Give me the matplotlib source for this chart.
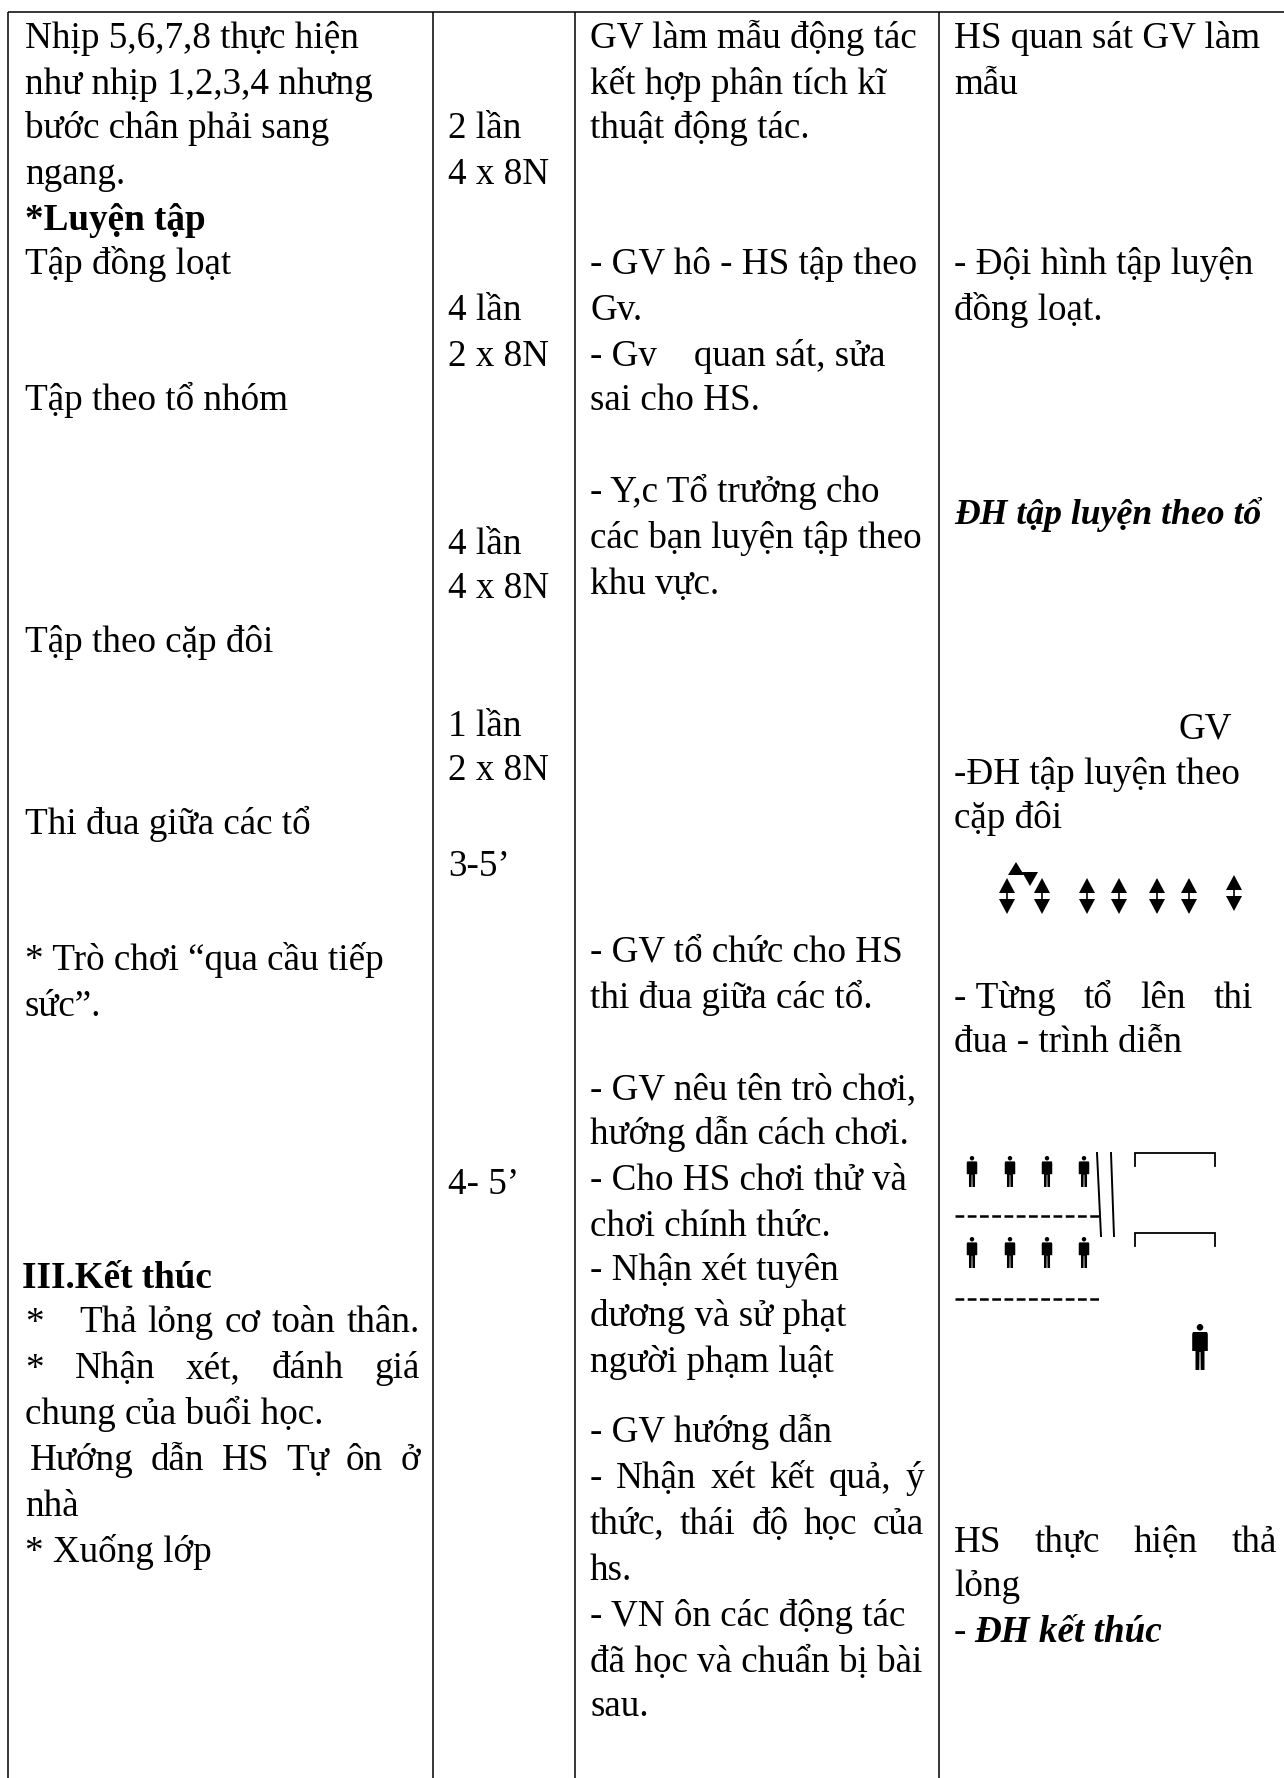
"""Scanned lesson-plan table page (Vietnamese), redrawn in pixel coordinates."""
import matplotlib
matplotlib.use('Agg')
import matplotlib.pyplot as plt
from matplotlib.patches import Circle, Polygon

W, H = 1284, 1778
FONT = 'Liberation Serif'
FS = 26.7
BASE_SHIFT = 1.5

# column 1
COL1_TEXT = ['Nhịp 5,6,7,8 thực hiện', 'như nhịp 1,2,3,4 nhưng', 'bước chân phải sang', 'ngang.',
             '*Luyện tập', 'Tập đồng loạt', 'Tập theo tổ nhóm', 'Tập theo cặp đôi',
             'Thi đua giữa các tổ', '* Trò chơi “qua cầu tiếp', 'sức”.', 'III.Kết thúc',
             '*', 'Thả lỏng cơ toàn thân.', '* Nhận xét, đánh giá', 'chung của buổi học.',
             'Hướng dẫn HS Tự ôn ở', 'nhà', '* Xuống lớp']
COL1_Y = [47, 92, 137, 182, 228, 273, 409, 650, 832, 968, 1014, 1286, 1331, 1331, 1377, 1423, 1468, 1514, 1560]
COL1_X = [25, 25, 25, 25, 25, 25, 25, 25, 25, 25, 25, 22, 25, 79, 25, 25, 30, 25, 25]

# column 2
COL2_TEXT = ['2 lần', '4 x 8N', '4 lần', '2 x 8N', '4 lần', '4 x 8N', '1 lần', '2 x 8N', '3-5’', '4- 5’']
COL2_Y = [137, 182, 319, 364, 552, 597, 734, 779, 874, 1193]

# column 3
COL3_TEXT = ['GV làm mẫu động tác', 'kết hợp phân tích kĩ', 'thuật động tác.',
             '- GV hô - HS tập theo', 'Gv.', '- Gv    quan sát, sửa', 'sai cho HS.',
             '- Y,c Tổ trưởng cho', 'các bạn luyện tập theo', 'khu vực.',
             '- GV tổ chức cho HS', 'thi đua giữa các tổ.',
             '- GV nêu tên trò chơi,', 'hướng dẫn cách chơi.', '- Cho HS chơi thử và',
             'chơi chính thức.', '- Nhận xét tuyên', 'dương và sử phạt', 'người phạm luật',
             '- GV hướng dẫn', '- Nhận xét kết quả, ý', 'thức, thái độ học của', 'hs.',
             '- VN ôn các động tác', 'đã học và chuẩn bị bài', 'sau.']
COL3_Y = [47, 92, 137, 273, 318, 364, 409, 501, 547, 592, 960, 1006, 1098, 1143, 1188, 1234,
          1279, 1325, 1371, 1441, 1487, 1532, 1579, 1625, 1670, 1715]

# column 4
COL4_TEXT = ['HS quan sát GV làm', 'mẫu', '- Đội hình tập luyện', 'đồng loạt.',
             'ĐH tập luyện theo tổ', '-ĐH tập luyện theo', 'cặp đôi', '-\u00a0Từng tổ lên thi',
             'đua - trình diễn', 'HS thực hiện thả', 'lỏng', '-', 'ĐH kết thúc']
COL4_Y = [47, 92, 273, 318, 522, 782, 827, 1006, 1051, 1550, 1595, 1640, 1640]
COL4_X = [954, 954, 954, 954, 954, 954, 954, 954, 954, 954, 954, 954, 974]
GV_LABEL = 'GV'

# lines stretched to the cell width: text -> right edge
JUSTIFIED = {'* Nhận xét, đánh giá': 420, 'Hướng dẫn HS Tự ôn ở': 420, 'Thả lỏng cơ toàn thân.': 420,
             '- Nhận xét kết quả, ý': 924, 'thức, thái độ học của': 924,
             '-\u00a0Từng tổ lên thi': 1253, 'HS thực hiện thả': 1277}
BOLD = ['*Luyện tập', 'III.Kết thúc']
BOLD_ITALIC = ['ĐH tập luyện theo tổ', 'ĐH kết thúc']

# grid
COL_LINES = [8, 433, 575, 939]
TOP = 12

# pair-formation arrows
ARROW_X = [1007, 1042, 1087, 1119, 1157, 1189, 1234]
ARROW_Y = [896, 896, 896, 896, 896, 896, 893]
# relay-game figures
SMALL_X = [972, 1010, 1047, 1084]
SMALL_Y = [1156, 1237]
DASH_Y = [1216, 1299]
BRACKET_Y = [1153, 1233]


fig = plt.figure(figsize=(W / 100, H / 100), dpi=100)
ax = fig.add_axes([0, 0, 1, 1])
ax.set_xlim(0, W)
ax.set_ylim(H, 0)
ax.axis('off')


def put(x, y, s):
    style = {'weight': 'normal', 'style': 'normal'}
    size = FS
    if s in BOLD:
        style['weight'] = 'bold'
    if s in BOLD_ITALIC:
        style.update(weight='bold', style='italic')
    if s == 'ĐH tập luyện theo tổ':
        size = 25.7  # this line is set tighter in the page
    return ax.text(x, y + BASE_SHIFT, s, family=FONT, fontsize=size, va='baseline', ha='left',
                   color='black', **style)


def line_of_text(x, y, s):
    if s not in JUSTIFIED:
        put(x, y, s)
        return
    # spread the words out to reach the right edge of the cell
    words = s.split(' ')
    r = fig.canvas.get_renderer()
    widths = []
    for w in words:
        t = put(0, 0, w)
        widths.append(t.get_window_extent(r).width)
        t.remove()
    gap = (JUSTIFIED[s] - x - sum(widths)) / (len(words) - 1)
    for w, wd in zip(words, widths):
        put(x, y, w)
        x += wd + gap


def person(cx, top, h):
    """Standing figure, h pixels tall."""
    u = h / 46.0
    ax.add_patch(Circle((cx, top + 3.3 * u), 3.3 * u, fc='black', ec='none'))
    body = [(-7, 8), (7, 8), (7.8, 10), (7.8, 27), (4.5, 27), (4.5, 46), (0.7, 46), (0.5, 28),
            (-0.5, 28), (-0.7, 46), (-4.5, 46), (-4.5, 27), (-7.8, 27), (-7.8, 10)]
    ax.add_patch(Polygon([(cx + a * u, top + b * u) for a, b in body], fc='black', ec='none'))


def double_arrow(cx, cy):
    ax.add_patch(Polygon([(cx - 8, cy - 3), (cx + 8, cy - 3), (cx, cy - 18)], fc='black', ec='none'))
    ax.add_patch(Polygon([(cx - 8, cy + 3), (cx + 8, cy + 3), (cx, cy + 18)], fc='black', ec='none'))
    ax.plot([cx, cx], [cy - 3, cy + 3], color='black', lw=1.2)


for x, y, s in zip(COL1_X, COL1_Y, COL1_TEXT):
    line_of_text(x, y, s)
for y, s in zip(COL2_Y, COL2_TEXT):
    line_of_text(448, y, s)
for y, s in zip(COL3_Y, COL3_TEXT):
    line_of_text(590, y, s)
for x, y, s in zip(COL4_X, COL4_Y, COL4_TEXT):
    line_of_text(x, y, s)
put(1178, 737, GV_LABEL)

# table rules run off the bottom and right of the page
ax.plot([COL_LINES[0], W], [TOP, TOP], color='black', lw=1.1, solid_capstyle='butt')
for x in COL_LINES:
    ax.plot([x, x], [TOP, H], color='black', lw=1.1, solid_capstyle='butt')

for x, y in zip(ARROW_X, ARROW_Y):
    double_arrow(x, y)
# little triangles over the first pair
ax.add_patch(Polygon([(1008, 875), (1024, 875), (1016, 862)], fc='black', ec='none'))
ax.add_patch(Polygon([(1022, 872), (1038, 872), (1030, 886)], fc='black', ec='none'))

for y in SMALL_Y:
    for x in SMALL_X:
        person(x, y, 31)
person(1200, 1324, 46)

for y in DASH_Y:
    ax.plot([955, 1102], [y, y], color='black', lw=1.8, dashes=(3.5, 1.4), solid_capstyle='butt')
ax.plot([1097, 1101], [1153, 1236], color='black', lw=1.4)
ax.plot([1111, 1114], [1153, 1236], color='black', lw=1.4)
for y in BRACKET_Y:
    ax.plot([1135, 1135, 1215, 1215], [y + 13, y, y, y + 13], color='black', lw=1.3,
            solid_joinstyle='miter')

fig.savefig('out.png', dpi=100, facecolor='white')
